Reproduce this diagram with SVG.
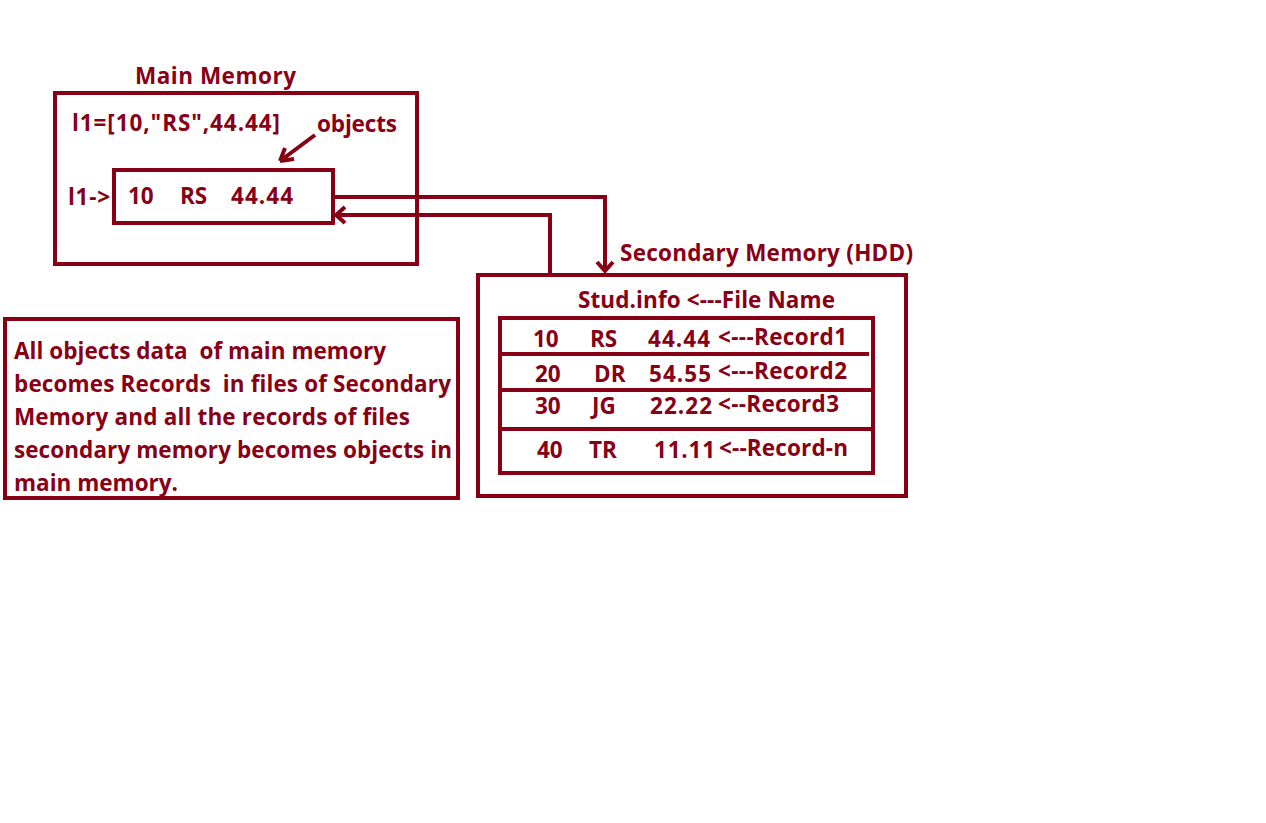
<svg xmlns="http://www.w3.org/2000/svg" width="1266" height="823" viewBox="0 0 1266 823">
<style>
text{font-family:"Open Sans",Lato,"Liberation Sans",sans-serif;font-weight:bold;fill:#880015;font-size:22.5px}
.b{fill:none;stroke:#880015;stroke-width:4}
.c{fill:none;stroke:#880015;stroke-width:4;stroke-linejoin:miter}
</style>
<rect width="1266" height="823" fill="#fff"/>
<g id="main-memory">
<text x="135" y="84" textLength="161">Main Memory</text>
<rect class="b" x="55" y="93" width="362" height="171"/>
<text x="72" y="131" textLength="208">l1=[10,"RS",44.44]</text>
<text x="317" y="132" textLength="80">objects</text>
<path class="c" d="M315 135 L280 161 M280 161 L285 148 M280 161 L294 159"/>
<text x="68" y="205" textLength="42">l1-&gt;</text>
<rect id="obj" class="b" x="114" y="170" width="219" height="53"/>
<text x="128" y="204">10</text>
<text x="180" y="204">RS</text>
<text x="231" y="204" textLength="62">44.44</text>
</g>
<g id="connectors">
<path class="c" d="M333 197 H605 V271"/>
<path class="c" d="M597 262 L605 271 L613 262"/>
<path class="c" d="M550 273 V215 H336"/>
<path class="c" d="M345 207 L336 215 L345 223"/>
</g>
<g id="secondary-memory">
<text x="620" y="261" textLength="293">Secondary Memory (HDD)</text>
<rect class="b" x="478" y="275" width="428" height="221"/>
<text x="578" y="308" textLength="257">Stud.info &lt;---File Name</text>
<rect class="b" x="500" y="318" width="373" height="155"/>
<path class="b" d="M500 354 H869 M500 390 H873 M500 429 H873"/>
<text x="533" y="347">10</text><text x="590" y="347">RS</text><text x="648" y="347" textLength="62">44.44</text><text x="718" y="345" textLength="129">&lt;---Record1</text>
<text x="535" y="382">20</text><text x="594" y="382">DR</text><text x="649" y="382" textLength="62">54.55</text><text x="718" y="379" textLength="129">&lt;---Record2</text>
<text x="535" y="414">30</text><text x="592" y="414">JG</text><text x="650" y="414" textLength="62">22.22</text><text x="718" y="412" textLength="121">&lt;--Record3</text>
<text x="537" y="458">40</text><text x="589" y="458">TR</text><text x="654" y="458" textLength="61">11.11</text><text x="719" y="456" textLength="129">&lt;--Record-n</text>
</g>
<g id="note">
<rect class="b" x="5" y="319" width="453" height="179"/>
<text x="14" y="359" xml:space="preserve" textLength="372">All objects data  of main memory</text>
<text x="14" y="392" xml:space="preserve" textLength="437">becomes Records  in files of Secondary</text>
<text x="14" y="425" textLength="396">Memory and all the records of files</text>
<text x="14" y="458" textLength="438">secondary memory becomes objects in</text>
<text x="14" y="491" textLength="164">main memory.</text>
</g>
</svg>
